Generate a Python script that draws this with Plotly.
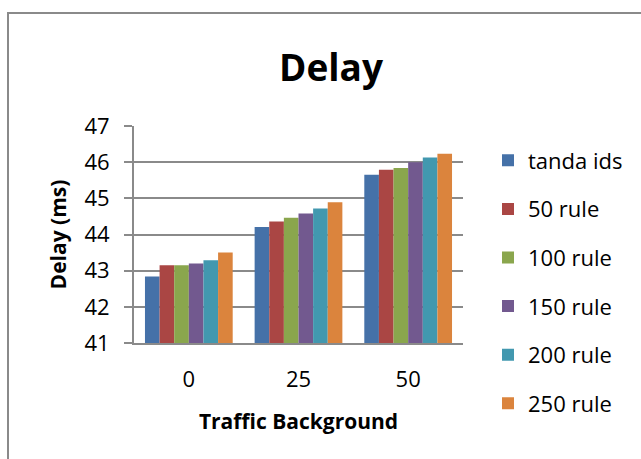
import plotly.graph_objects as go

# Traffic background levels (x categories)
categories = ["0", "25", "50"]

# Delay in ms per configuration
series_names = ["tanda ids", "50 rule", "100 rule", "150 rule", "200 rule", "250 rule"]
tanda_ids = [42.84, 44.21, 45.65]
rule_50 = [43.15, 44.36, 45.79]
rule_100 = [43.15, 44.46, 45.84]
rule_150 = [43.20, 44.58, 46.00]
rule_200 = [43.29, 44.72, 46.13]
rule_250 = [43.50, 44.89, 46.23]

y_ticks = [41, 42, 43, 44, 45, 46, 47]

colors = ["#4571A8", "#AA4644", "#8AA64D", "#72598F", "#4298AF", "#DB843D"]
values = [tanda_ids, rule_50, rule_100, rule_150, rule_200, rule_250]

FONT = "Open Sans"

fig = go.Figure()
for name, vals, col in zip(series_names, values, colors):
    fig.add_trace(go.Bar(
        x=categories, y=vals, name=name, legendgroup=name,
        marker=dict(color=col, line=dict(width=0)),
    ))

fig.update_layout(
    width=641, height=459,
    margin=dict(l=134, r=178, t=126, b=116),
    paper_bgcolor="white", plot_bgcolor="white",
    barmode="group", bargap=0.2, bargroupgap=0,
    font=dict(family=FONT, size=22, color="black"),
    title=dict(text="<b>Delay</b>", x=(331 - 0) / 641, xanchor="center",
               y=1 - 68 / 459, yanchor="middle",
               font=dict(family=FONT, size=37, color="black")),
    showlegend=True,
    legend=dict(
        x=(488 - 134) / 329, xanchor="left",
        y=(343 - 282) / 217, yanchor="middle",
        traceorder="grouped", tracegroupgap=17,
        maxheight=450,
        font=dict(family=FONT, size=22, color="black"),
        bgcolor="rgba(0,0,0,0)",
    ),
    xaxis=dict(
        type="category",
        showline=True, linecolor="#8a8a8a", linewidth=2,
        ticks="", showgrid=False,
        ticklabelstandoff=16,
        tickfont=dict(family=FONT, size=22),
        title=dict(text="<b>Traffic Background</b>", standoff=22,
                   font=dict(family=FONT, size=21)),
    ),
    yaxis=dict(
        range=[41, 47], tickvals=y_ticks,
        showline=True, linecolor="#8a8a8a", linewidth=2,
        ticks="outside", ticklen=8, tickcolor="#8a8a8a", tickwidth=2,
        ticklabelstandoff=10,
        showgrid=True, gridcolor="#8a8a8a", gridwidth=2,
        zeroline=False,
        tickfont=dict(family=FONT, size=22),
        title=dict(text="<b>Delay (ms)</b>", standoff=12,
                   font=dict(family=FONT, size=21)),
    ),
)

# Chart frame
fig.add_shape(type="rect", xref="paper", yref="paper",
              x0=(8 - 134) / 329, x1=3, y0=-3, y1=(343 - 13) / 217,
              line=dict(color="#8a8a8a", width=2), fillcolor="rgba(0,0,0,0)",
              layer="below")

fig.write_html("out.html")
